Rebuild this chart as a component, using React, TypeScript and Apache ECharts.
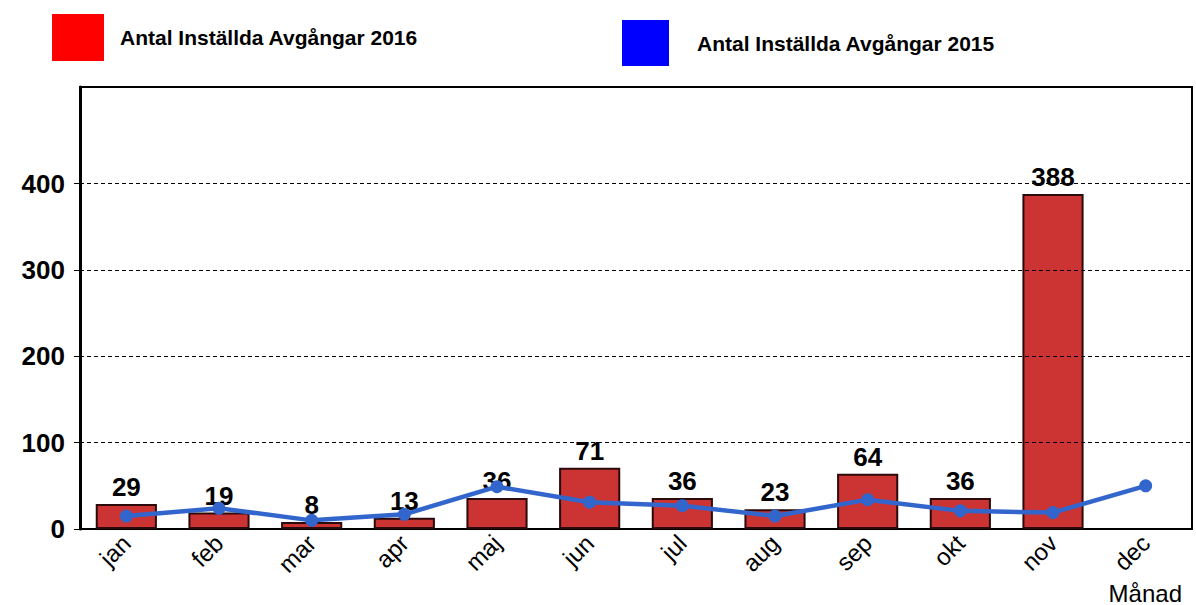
import React, { useEffect, useRef } from "react";
import * as echarts from "echarts";

const months = ["jan", "feb", "mar", "apr", "maj", "jun", "jul", "aug", "sep", "okt", "nov", "dec"];
const cancelled2016: (number | null)[] = [29, 19, 8, 13, 36, 71, 36, 23, 64, 36, 388, null];
const cancelled2015 = [15, 24, 10, 17, 49, 31, 27, 15, 34, 21, 19, 50];
const yTicks = [0, 100, 200, 300, 400];
const gridValues = [100, 200, 300, 400];
const name2016 = "Antal Inställda Avgångar 2016";
const name2015 = "Antal Inställda Avgångar 2015";

export default function App() {
  const ref = useRef<HTMLDivElement>(null);
  useEffect(() => {
    if (!ref.current) return;
    const chart = echarts.init(ref.current, null, { renderer: "svg" });
    const font = "'Liberation Sans', Arial, sans-serif";
    chart.setOption({
      animation: false,
      textStyle: { fontFamily: font },
      legend: [
        {
          left: 52,
          top: 14,
          padding: 0,
          itemWidth: 52,
          itemHeight: 47,
          icon: "rect",
          data: [{ name: name2016, itemStyle: { color: "#ff0000", borderWidth: 0 } }],
          textStyle: { fontSize: 21, fontWeight: "bold", color: "#000", padding: [0, 0, 0, 11], fontFamily: font },
          selectedMode: false,
        },
        {
          left: 622,
          top: 20,
          padding: 0,
          itemWidth: 47,
          itemHeight: 46,
          icon: "rect",
          data: [{ name: name2015, itemStyle: { color: "#0000ff", borderWidth: 0 } }],
          textStyle: { fontSize: 21, fontWeight: "bold", color: "#000", padding: [0, 0, 0, 23], fontFamily: font },
          selectedMode: false,
        },
      ],
      grid: {
        left: 80,
        right: 4,
        top: 87,
        bottom: 75,
        show: true,
        borderColor: "#000",
        borderWidth: 2,
        backgroundColor: "transparent",
      },
      xAxis: {
        type: "category",
        data: months,
        name: "Månad",
        nameLocation: "end",
        nameGap: 0,
        nameTextStyle: { fontSize: 24, color: "#000", align: "right", verticalAlign: "top", padding: [52, 10, 0, 0], fontFamily: font },
        axisLine: { lineStyle: { color: "#000", width: 2 } },
        axisTick: { show: false },
        axisLabel: { rotate: 45, fontSize: 24, color: "#000", margin: 10, fontFamily: font },
      },
      yAxis: {
        type: "value",
        min: 0,
        max: 512,
        interval: 100,
        axisLine: { show: true, lineStyle: { color: "#000", width: 3 } },
        axisTick: { show: true, length: 6, customValues: yTicks, lineStyle: { color: "#000", width: 1 } },
        axisLabel: { customValues: yTicks, fontSize: 26, fontWeight: "bold", color: "#000", margin: 15, fontFamily: font },
        splitLine: { show: false },
      },
      series: [
        {
          name: name2016,
          type: "bar",
          data: cancelled2016,
          barWidth: "66%",
          itemStyle: { color: "#cc3333", borderColor: "#2a0a0a", borderWidth: 2 },
          label: { show: true, position: "top", distance: 4, fontSize: 26, fontWeight: "bold", color: "#000", fontFamily: font },
          markLine: {
            silent: true,
            symbol: "none",
            label: { show: false },
            lineStyle: { color: "#000", type: [4, 3], width: 1 },
            data: gridValues.map((v) => ({ yAxis: v })),
          },
          z: 2,
        },
        {
          name: name2015,
          type: "line",
          data: cancelled2015,
          symbol: "circle",
          symbolSize: 13,
          lineStyle: { color: "#3366cc", width: 4.5 },
          itemStyle: { color: "#3366cc" },
          z: 3,
        },
      ],
    });
    return () => chart.dispose();
  }, []);
  return <div ref={ref} style={{ width: 1196, height: 605, position: "absolute", left: 0, top: 0 }} />;
}
